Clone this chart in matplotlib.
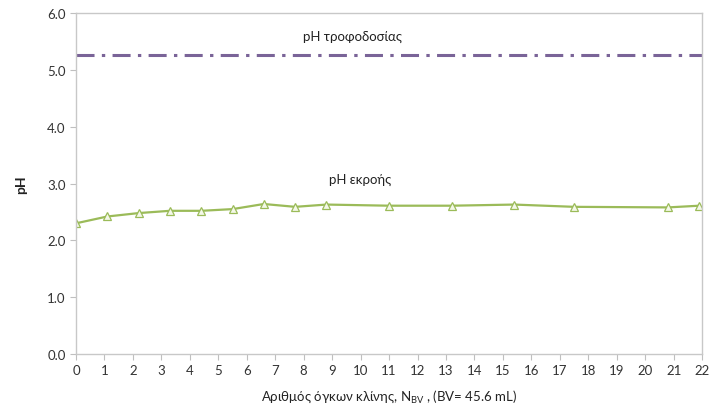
import matplotlib
matplotlib.use("Agg")
from matplotlib import pyplot as plt

plt.rcParams['font.family'] = ['Lato', 'Noto Sans', 'DejaVu Sans']

# bed volumes and effluent pH
n_bv = [0, 1.1, 2.2, 3.3, 4.4, 5.5, 6.6, 7.7, 8.8, 11.0, 13.2, 15.4, 17.5, 20.8, 21.9]
ph_out = [2.30, 2.42, 2.48, 2.52, 2.52, 2.55, 2.64, 2.59, 2.63, 2.61, 2.61, 2.63, 2.59, 2.58, 2.61]
ph_feed = 5.27

xticks = list(range(0, 23))
yticks = [0.0, 1.0, 2.0, 3.0, 4.0, 5.0, 6.0]

fig = plt.figure(figsize=(7.1, 4.14), dpi=100)
ax = fig.add_axes([0.107, 0.1425, 0.882, 0.8235])

ax.axhline(ph_feed, color='#7a6498', lw=2.2, dashes=(5.9, 2.4, 1.1, 2.4))
ax.plot(n_bv, ph_out, color='#9bbb59', lw=1.6, marker='^', ms=5.5,
        markerfacecolor='#f4f8e8', markeredgecolor='#9bbb59', markeredgewidth=0.9)

ax.text(9.7, 5.59, 'pH τροφοδοσίας', ha='center', va='center', fontsize=9.5, color='#222222')
ax.text(10.0, 3.09, 'pH εκροής', ha='center', va='center', fontsize=9.5, color='#222222')

ax.set_xlim(0, 22)
ax.set_ylim(0, 6)
ax.set_xticks(xticks)
ax.set_yticks(yticks)
ax.set_yticklabels([f'{v:.1f}' for v in yticks])
ax.tick_params(colors='#bfbfbf', labelcolor='#333333', labelsize=9.5, length=4)

for s in ax.spines.values():
    s.set_color('#c8c8c8')
    s.set_linewidth(1)

ax.set_ylabel('pH', fontsize=10, fontweight='bold', color='#222222', labelpad=14)
ax.set_xlabel('Αριθμός όγκων κλίνης, N$_{\\mathregular{BV}}$ , (BV= 45.6 mL)',
              fontsize=9.5, color='#222222', labelpad=8)

plt.savefig('out.png', dpi=100)
